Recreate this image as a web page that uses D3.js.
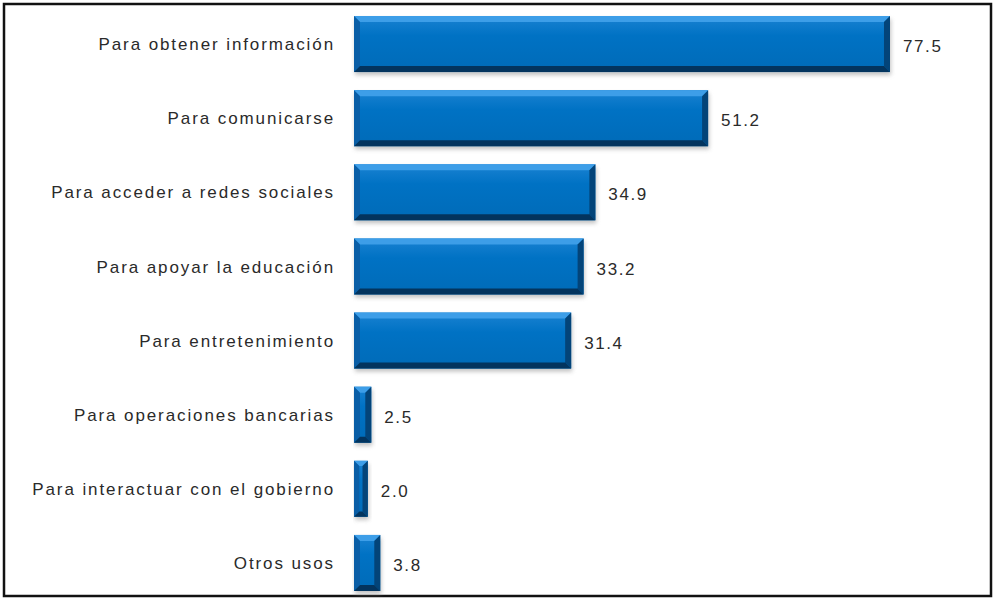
<!DOCTYPE html>
<html>
<head>
<meta charset="utf-8">
<script src="https://cdn.jsdelivr.net/npm/d3@7"></script>
<style>
  body { margin: 0; background: #fff; }
  text { font-family: "Liberation Sans", Arial, sans-serif; }
</style>
</head>
<body>
<script>
// Data
var categories = [
    "Para obtener información",
    "Para comunicarse",
    "Para acceder a redes sociales",
    "Para apoyar la educación",
    "Para entretenimiento",
    "Para operaciones bancarias",
    "Para interactuar con el gobierno",
    "Otros usos"
];
var values = [77.5, 51.2, 34.9, 33.2, 31.4, 2.5, 2.0, 3.8];

var svgWidth = 993;
var svgHeight = 599;

var svg = d3.select("body")
    .append("svg")
    .attr("width", svgWidth)
    .attr("height", svgHeight);

var data = categories.map(function (c, i) { return { cat: c, val: values[i] }; });

// shadow filter under the bars
var defs = svg.append("defs");
var filter = defs.append("filter").attr("id", "shadow")
    .attr("x", "-10%").attr("y", "-20%").attr("width", "130%").attr("height", "160%");
filter.append("feGaussianBlur").attr("stdDeviation", 2);

var face = defs.append("linearGradient").attr("id", "face")
    .attr("x1", 0).attr("y1", 0).attr("x2", 0).attr("y2", 1);
face.append("stop").attr("offset", "0%").attr("stop-color", "#1a82d2");
face.append("stop").attr("offset", "35%").attr("stop-color", "#0072c4");
face.append("stop").attr("offset", "100%").attr("stop-color", "#006bb8");

// frame
svg.append("rect")
    .attr("x", 4).attr("y", 4)
    .attr("width", 987).attr("height", 592)
    .attr("fill", "#fff")
    .attr("stroke", "#111")
    .attr("stroke-width", 2.5);

var xScale = d3.scaleLinear()
    .domain([0, 80])
    .range([354, 354 + 80 * 6.916]);

var yScale = d3.scaleBand()
    .domain(categories)
    .range([7, 600])
    .paddingInner(0.244)
    .paddingOuter(0.122);

var bars = svg.selectAll("g.bar")
    .data(data)
    .enter()
    .append("g")
    .attr("class", "bar");

// soft shadow
bars.append("rect")
    .attr("x", d => xScale(0) + 1)
    .attr("y", d => yScale(d.cat) + 3)
    .attr("width", d => xScale(d.val) - xScale(0))
    .attr("height", yScale.bandwidth())
    .attr("fill", "#9a9a9a")
    .attr("opacity", 0.6)
    .attr("filter", "url(#shadow)");

// face
bars.append("rect")
    .attr("x", d => xScale(0))
    .attr("y", d => yScale(d.cat))
    .attr("width", d => xScale(d.val) - xScale(0))
    .attr("height", yScale.bandwidth())
    .attr("fill", "url(#face)");

// bevel edges
function bevel(d, side) {
    var x0 = xScale(0), x1 = xScale(d.val);
    var y0 = yScale(d.cat), y1 = y0 + yScale.bandwidth();
    var b = Math.min(6, (x1 - x0) / 2.6);
    var pts;
    if (side == "top") pts = [[x0, y0], [x1, y0], [x1 - b, y0 + b], [x0 + b, y0 + b]];
    if (side == "bottom") pts = [[x0, y1], [x1, y1], [x1 - b, y1 - b], [x0 + b, y1 - b]];
    if (side == "left") pts = [[x0, y0], [x0 + b, y0 + b], [x0 + b, y1 - b], [x0, y1]];
    if (side == "right") pts = [[x1, y0], [x1 - b, y0 + b], [x1 - b, y1 - b], [x1, y1]];
    return pts.map(p => p.join(",")).join(" ");
}

var bevelColors = { top: "#3d9ee8", left: "#0a5ea6", right: "#034479", bottom: "#03345e" };
["top", "left", "right", "bottom"].forEach(function (side) {
    bars.append("polygon")
        .attr("points", d => bevel(d, side))
        .attr("fill", bevelColors[side]);
});

// category labels
svg.selectAll("text.cat")
    .data(data)
    .enter()
    .append("text")
    .attr("class", "cat")
    .attr("x", 335)
    .attr("y", d => yScale(d.cat) + yScale.bandwidth() / 2)
    .attr("dy", "0.36em")
    .attr("text-anchor", "end")
    .attr("font-size", 17)
    .attr("letter-spacing", "1.9px")
    .attr("fill", "#2a2a2a")
    .text(d => d.cat);

// value labels
svg.selectAll("text.val")
    .data(data)
    .enter()
    .append("text")
    .attr("class", "val")
    .attr("x", d => xScale(d.val) + 13)
    .attr("y", d => yScale(d.cat) + yScale.bandwidth() / 2 + 2)
    .attr("dy", "0.36em")
    .attr("font-size", 17)
    .attr("letter-spacing", "1.6px")
    .attr("fill", "#2a2a2a")
    .text(d => d.val.toFixed(1));
</script>
</body>
</html>
